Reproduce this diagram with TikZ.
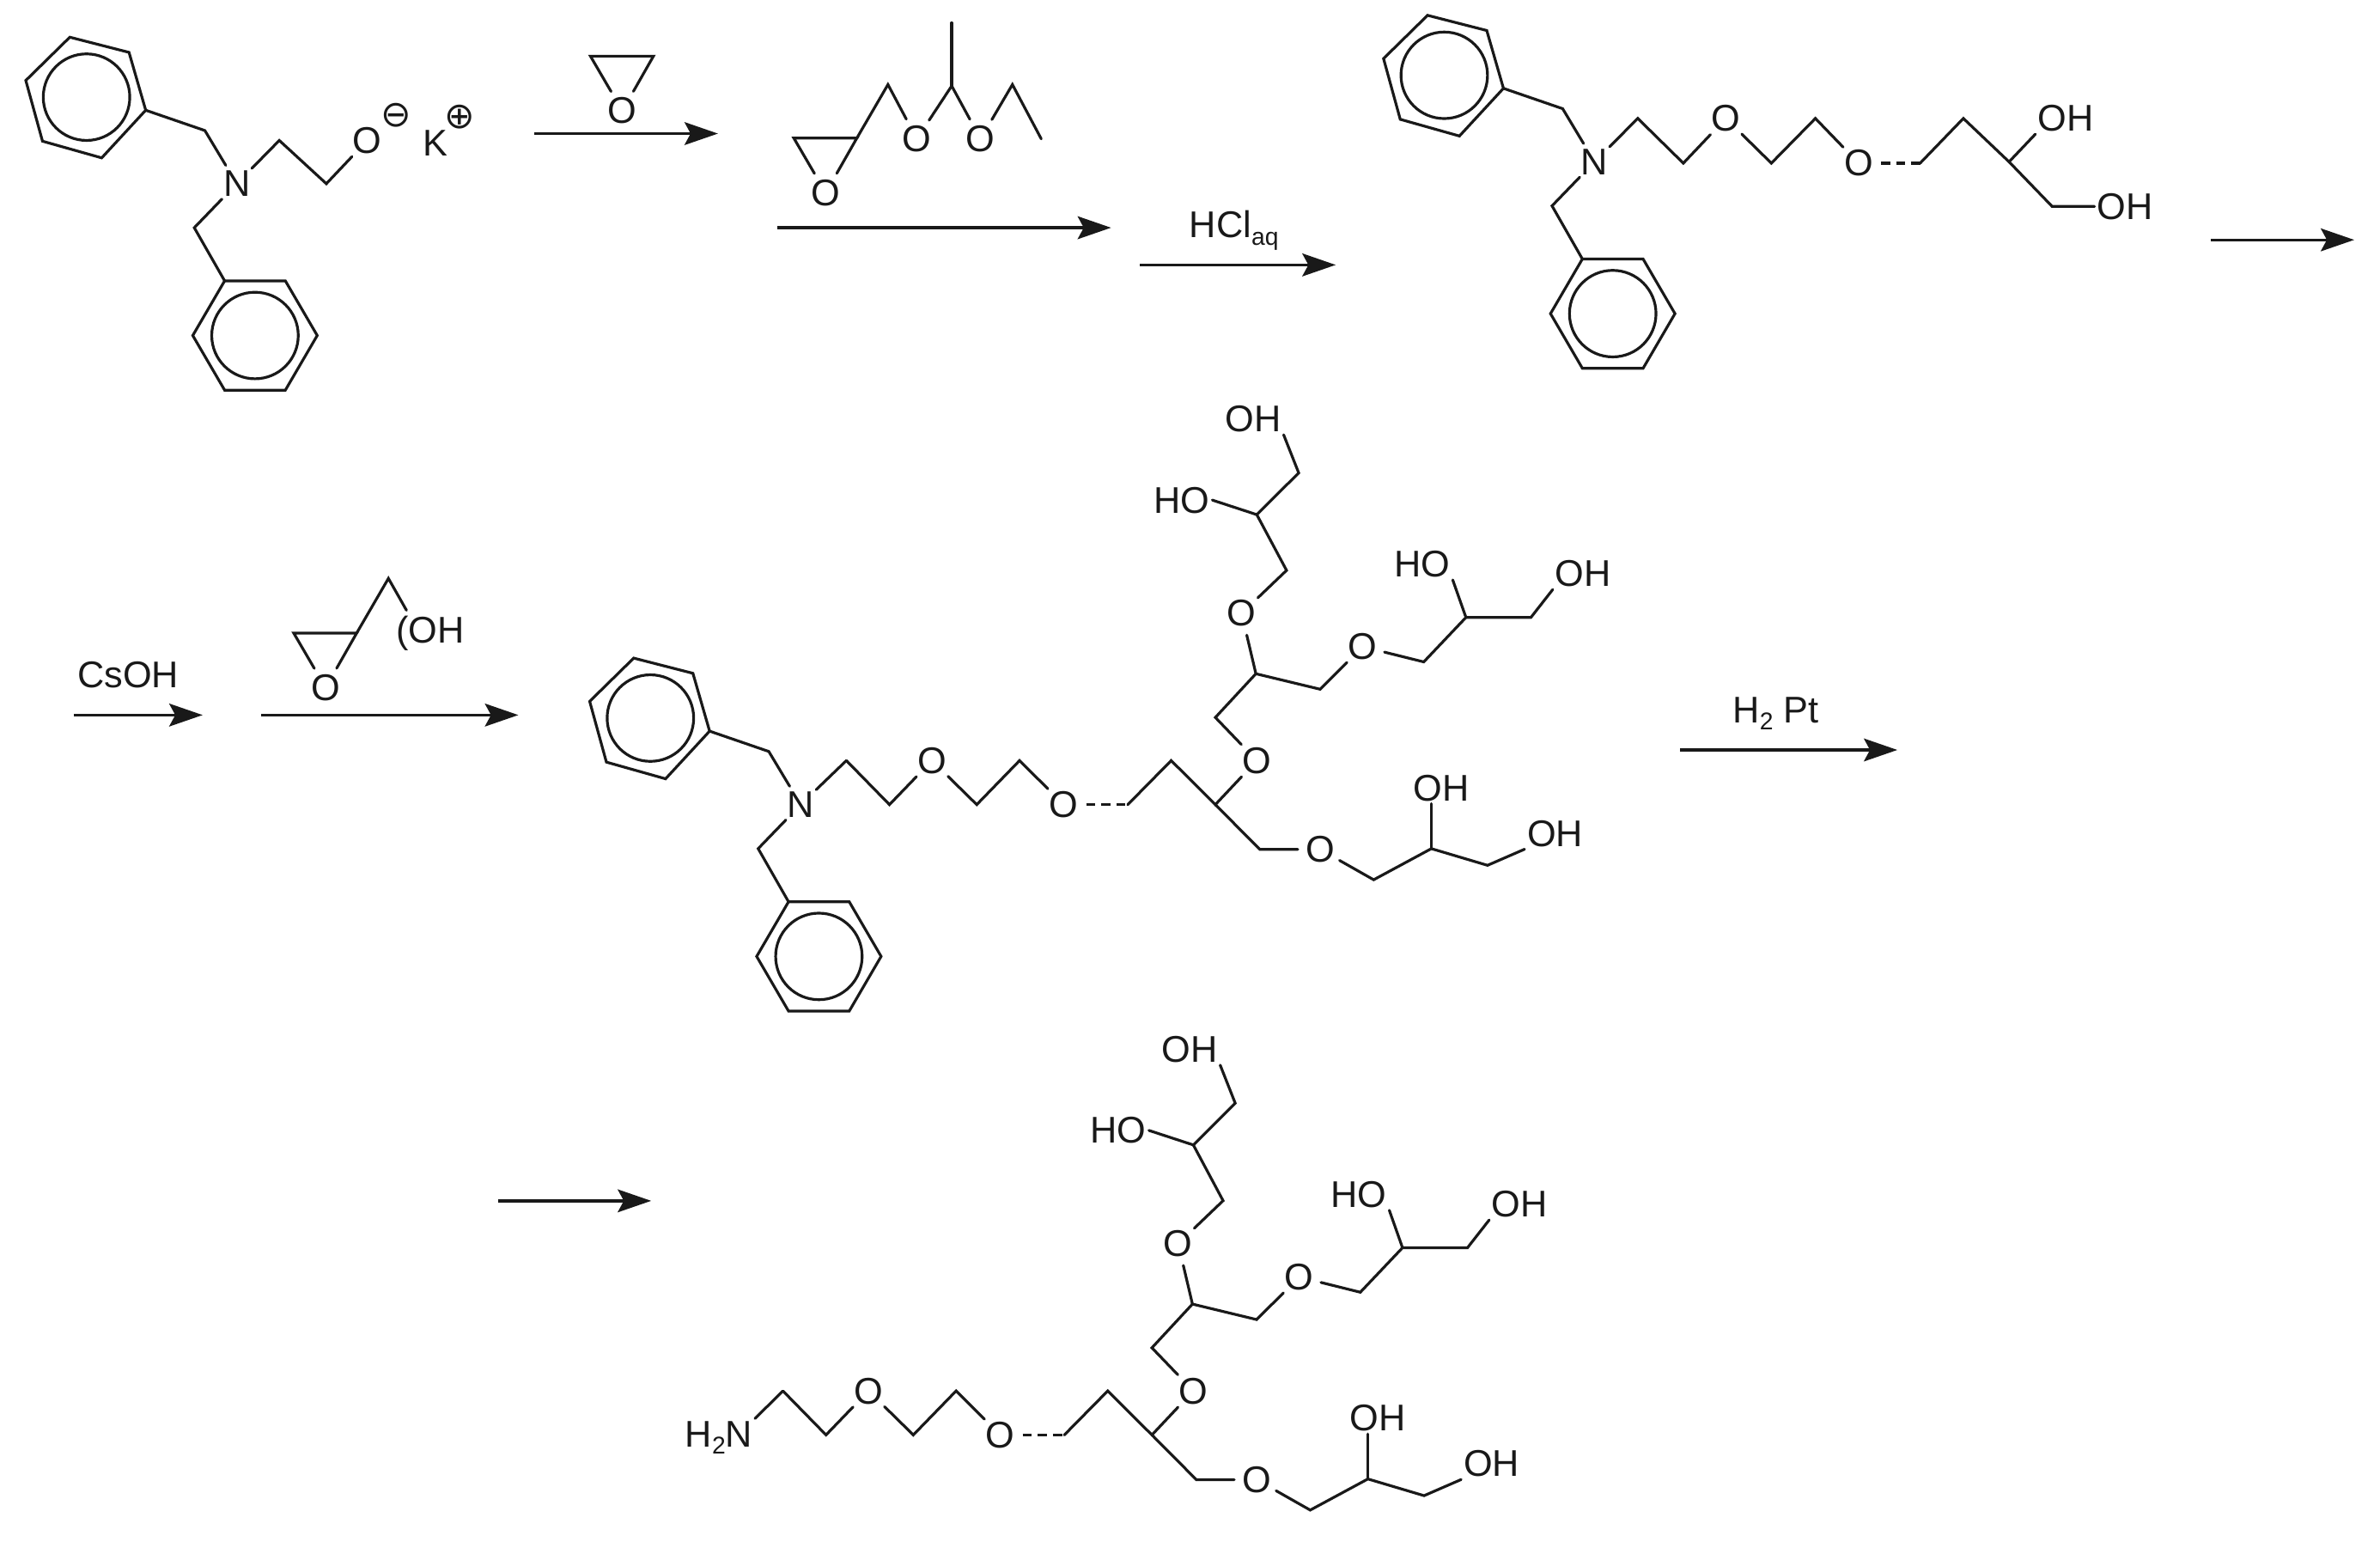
\documentclass[tikz,border=0pt]{standalone}
\usepackage{fontspec}
\setmainfont{Liberation Sans}
\newfontfamily\symfont{DejaVu Sans}
\usetikzlibrary{arrows.meta}
\tikzset{
  bond/.style={line width=1.8pt,line join=miter,line cap=round,draw=black!90},
  dashbond/.style={line width=1.8pt,draw=black!90,dash pattern=on 6pt off 4pt},
  oatom/.style={circle,inner sep=1.2pt,text=black!90,font=\fontsize{24.5}{24.5}\selectfont},
  label/.style={inner sep=1.5pt,text=black!90,font=\fontsize{24.5}{24.5}\selectfont},
  charge/.style={inner sep=0pt,text=black!90,font=\symfont\fontsize{24}{24}\selectfont},
  rxn/.style={line width=1.9pt,draw=black!90,-{Stealth[length=22pt,width=15pt,inset=4pt]}}
}
\newcommand{\lowsub}[1]{\raisebox{-5pt}{\fontsize{16}{16}\selectfont #1}}
% benzyl amine unit: two rings on one nitrogen
\newcommand{\benzylunit}[3]{%
\begin{scope}[shift={(#2,#3)},name prefix=#1-]
  \coordinate (a1) at (46,24.5); \coordinate (a2) at (85,34.5); \coordinate (a3) at (96,72.6);
  \coordinate (a4) at (67,104);  \coordinate (a5) at (28,93);   \coordinate (a6) at (17,53);
  \coordinate (ac) at (57,64);
  \coordinate (b1) at (148,185); \coordinate (b2) at (188,185); \coordinate (b3) at (209,221);
  \coordinate (b4) at (188,257); \coordinate (b5) at (148,257); \coordinate (b6) at (127,221);
  \coordinate (bc) at (168,221);
  \coordinate (p) at (135,86);   \coordinate (q) at (128,150);
  \node[oatom] (N) at (156,121) {N};
  \draw[bond] (a1)--(a2)--(a3)--(a4)--(a5)--(a6)--cycle;
  \draw[bond] (ac) circle[radius=28.5pt];
  \draw[bond] (b1)--(b2)--(b3)--(b4)--(b5)--(b6)--cycle;
  \draw[bond] (bc) circle[radius=28.5pt];
  \draw[bond] (a3)--(p)--(N);
  \draw[bond] (N)--(q)--(b1);
\end{scope}}
% epoxide ring
\newcommand{\epoxide}[3]{%
\begin{scope}[shift={(#2,#3)},name prefix=#1-]
  \coordinate (l) at (0,0); \coordinate (r) at (41.5,0);
  \node[oatom] (O) at (21,36) {O};
  \draw[bond] (O)--(l)--(r)--(O);
\end{scope}}
% PEG linker and branched glycerol dendron
\newcommand{\dendron}[3]{%
\begin{scope}[shift={(#2,#3)},name prefix=#1-]
  \coordinate (a) at (557.6,501); \coordinate (b) at (586,530);
  \node[oatom] (O1) at (614,501) {O};
  \coordinate (c) at (643.5,530); \coordinate (d) at (671.7,501);
  \node[oatom] (O2) at (700.8,530) {O};
  \coordinate (e) at (743,530); \coordinate (f) at (771.6,501); \coordinate (g) at (800.7,530);
  \node[oatom] (O3) at (828,501) {O};
  \coordinate (h) at (830,559.5);
  \node[oatom] (O4) at (869.7,559.5) {O};
  \coordinate (i) at (905,579.5); \coordinate (j) at (943,559);
  \node[label] (OHa) at (949.4,519) {OH};
  \coordinate (k) at (980,570);
  \node[label] (OHb) at (1024.5,549) {OH};
  \coordinate (l) at (800.7,472.6); \coordinate (m) at (827.4,443.8); \coordinate (n) at (869.7,454);
  \node[oatom] (O5) at (897.8,426) {O};
  \coordinate (o) at (938,436); \coordinate (q) at (965.8,406.7);
  \node[label] (HOc) at (937,371.6) {HO};
  \coordinate (r) at (1008.6,406.7);
  \node[label] (OHd) at (1043,378) {OH};
  \node[oatom] (O6) at (818,404) {O};
  \coordinate (s) at (847.6,375.7); \coordinate (t) at (828,339);
  \node[label] (HOe) at (778.6,329.4) {HO};
  \coordinate (u) at (855.6,311.5);
  \node[label] (OHf) at (825.6,276) {OH};
  \draw[bond] (a)--(b)--(O1)--(c)--(d)--(O2);
  \draw[dashbond] (O2)--(e);
  \draw[bond] (e)--(f)--(g)--(O3);
  \draw[bond] (g)--(h)--(O4)--(i)--(j)--(k)--(OHb.south west);
  \draw[bond] (j)--(j |- OHa.south);
  \draw[bond] (O3)--(l)--(m)--(n)--(O5)--(o)--(q)--(r)--(OHd.south west);
  \draw[bond] (q)--(HOc.south east);
  \draw[bond] (m)--(O6)--(s)--(t)--(u)--(OHf.south east);
  \draw[bond] (t)--(HOe.east);
\end{scope}}
\begin{document}
\begin{tikzpicture}[x=1pt,y=-1pt]
\useasboundingbox (0,0) rectangle (1568,1019.14);

% ---- row 1, starting material
\benzylunit{A}{0}{0}
\coordinate (a1) at (184,92.5); \coordinate (a2) at (215,121);
\node[oatom] (Oneg) at (242,92.5) {O};
\node[charge] (minus) at (261,76) {⊖};
\node[label] (K) at (287,94) {K};
\node[charge] (plus) at (303,77) {⊕};
\draw[bond] (A-N)--(a1)--(a2)--(Oneg);

% ---- reagent over first arrow
\epoxide{E1}{389}{37}
\coordinate (r1s) at (352,88); \coordinate (r1e) at (473,88);
\draw[rxn] (r1s)--(r1e);

% ---- acetal protected glycidol
\epoxide{E2}{523}{91}
\coordinate (g1) at (585,55.7);
\node[oatom] (gO1) at (604,91.5) {O};
\coordinate (g2) at (627,56.6); \coordinate (g3) at (627,15);
\node[oatom] (gO2) at (646,91.5) {O};
\coordinate (g4) at (667,55.7); \coordinate (g5) at (686,91.5);
\draw[bond] (E2-r)--(g1)--(gO1)--(g2)--(gO2)--(g4)--(g5);
\draw[bond] (g2)--(g3);
\coordinate (r2s) at (512,150); \coordinate (r2e) at (732,150);
\draw[rxn] (r2s)--(r2e);

% ---- HCl
\node[label] (hcl) at (813,152) {HCl\lowsub{aq}};
\coordinate (r3s) at (751,174.5); \coordinate (r3e) at (880,174.5);
\draw[rxn] (r3s)--(r3e);

% ---- row 1, diol
\benzylunit{B}{894.5}{-14.4}
\coordinate (d1) at (1079,78); \coordinate (d2) at (1109,107.5);
\node[oatom] (dO1) at (1137,78) {O};
\coordinate (d3) at (1167,107.5); \coordinate (d4) at (1196,78);
\node[oatom] (dO2) at (1224.5,107.5) {O};
\coordinate (d5) at (1265,107.5); \coordinate (d6) at (1293.5,78); \coordinate (d7) at (1323.6,106.6);
\node[label] (dOH1) at (1361,78) {OH};
\coordinate (d8) at (1352,136);
\node[label] (dOH2) at (1400,136) {OH};
\draw[bond] (B-N)--(d1)--(d2)--(dO1)--(d3)--(d4)--(dO2);
\draw[dashbond] (dO2)--(d5);
\draw[bond] (d5)--(d6)--(d7)--(d8)--(dOH2.west);
\draw[bond] (d7)--(dOH1.south west);
\coordinate (r4s) at (1456.5,158); \coordinate (r4e) at (1551,158);
\draw[rxn] (r4s)--(r4e);

% ---- row 2, reagents
\node[label] (csoh) at (84.5,444.3) {CsOH};
\coordinate (r5s) at (48.6,471); \coordinate (r5e) at (133.5,471);
\draw[rxn] (r5s)--(r5e);
\epoxide{E3}{193.5}{417}
\coordinate (h1) at (255.9,381); \coordinate (h2) at (267.8,402);
\node[label] (hOH) at (283.6,417) {(OH};
\draw[bond] (E3-r)--(h1)--(h2);
\coordinate (r6s) at (172,471); \coordinate (r6e) at (341.5,471);
\draw[rxn] (r6s)--(r6e);

% ---- row 2, protected dendron
\benzylunit{C}{371.5}{409}
\dendron{D}{0}{0}
\draw[bond] (C-N)--(D-a);
\node[label] (h2pt) at (1170,470) {H\lowsub{2} Pt};
\coordinate (r7s) at (1107,494); \coordinate (r7e) at (1250,494);
\draw[rxn] (r7s)--(r7e);

% ---- row 3
\coordinate (r8s) at (328,791); \coordinate (r8e) at (429,791);
\draw[rxn] (r8s)--(r8e);
\dendron{F}{-41.8}{415.2}
\node[label] (nh2) at (473.6,947) {H\lowsub{2}N};
\draw[bond] (nh2.north east)--(F-a);
\end{tikzpicture}
\end{document}
